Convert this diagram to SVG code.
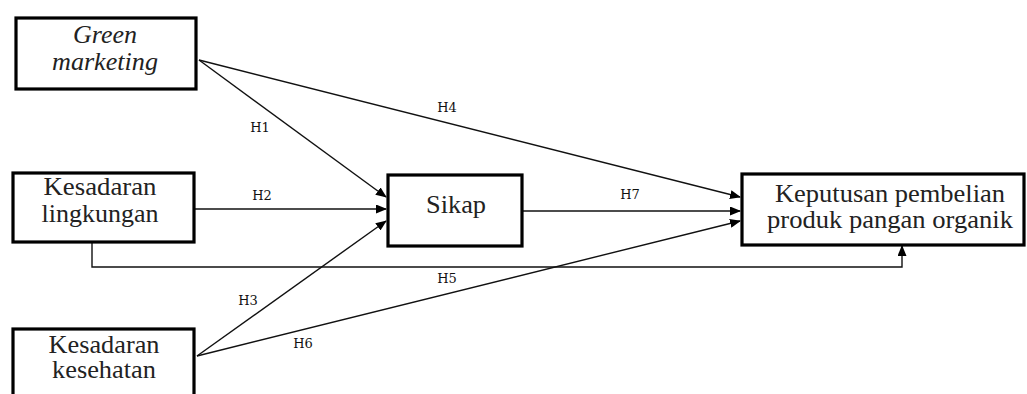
<svg xmlns="http://www.w3.org/2000/svg" width="1027" height="394" viewBox="0 0 1027 394">
<defs>
<marker id="arr" markerUnits="userSpaceOnUse" markerWidth="11" markerHeight="9" refX="10" refY="4.5" orient="auto">
<path d="M0,0 L11,4.5 L0,9 Z" fill="#000"/>
</marker>
<style>
.box{fill:#fff;stroke:#000;stroke-width:3.2}
.lbl{font-family:'Liberation Serif','Times New Roman',serif;font-size:25px;fill:#222;text-anchor:middle}
.h{font-family:'DejaVu Serif',serif;font-size:13px;fill:#111;text-anchor:middle}
.c{fill:none;stroke:#111;stroke-width:1.4}
</style>
</defs>
<rect width="1027" height="394" fill="#fff"/>
<g id="connectors">
<line class="c" x1="199" y1="60" x2="386" y2="197" marker-end="url(#arr)"/>
<line class="c" x1="199" y1="60" x2="740" y2="197" marker-end="url(#arr)"/>
<line class="c" x1="195" y1="209" x2="386" y2="209" marker-end="url(#arr)"/>
<line class="c" x1="197" y1="356" x2="386" y2="221" marker-end="url(#arr)"/>
<line class="c" x1="197" y1="356" x2="740" y2="221" marker-end="url(#arr)"/>
<line class="c" x1="522" y1="211" x2="740" y2="211" marker-end="url(#arr)"/>
<path class="c" d="M92,243 V267 H902 V246" marker-end="url(#arr)"/>
<text class="h" x="260" y="132">H1</text>
<text class="h" x="447" y="112">H4</text>
<text class="h" x="262" y="200">H2</text>
<text class="h" x="630" y="199">H7</text>
<text class="h" x="248" y="305">H3</text>
<text class="h" x="447" y="283">H5</text>
<text class="h" x="303" y="348">H6</text>
</g>
<g id="green-marketing">
<rect class="box" x="16" y="18" width="180" height="71"/>
<text class="lbl" x="105" y="43" font-style="italic" textLength="64" lengthAdjust="spacingAndGlyphs">Green</text>
<text class="lbl" x="105" y="70" font-style="italic" textLength="106" lengthAdjust="spacingAndGlyphs">marketing</text>
</g>
<g id="kesadaran-lingkungan">
<rect class="box" x="13" y="173" width="181" height="69"/>
<text class="lbl" x="100" y="195" textLength="113" lengthAdjust="spacingAndGlyphs">Kesadaran</text>
<text class="lbl" x="100" y="222" textLength="117" lengthAdjust="spacingAndGlyphs">lingkungan</text>
</g>
<g id="kesadaran-kesehatan">
<rect class="box" x="13" y="329" width="181" height="80"/>
<text class="lbl" x="104" y="353" textLength="111" lengthAdjust="spacingAndGlyphs">Kesadaran</text>
<text class="lbl" x="104" y="378" textLength="104" lengthAdjust="spacingAndGlyphs">kesehatan</text>
</g>
<g id="sikap">
<rect class="box" x="388" y="175" width="134" height="71"/>
<text class="lbl" x="456" y="213" textLength="60" lengthAdjust="spacingAndGlyphs">Sikap</text>
</g>
<g id="keputusan">
<rect class="box" x="742" y="174" width="282" height="71"/>
<text class="lbl" x="890" y="202" textLength="230" lengthAdjust="spacingAndGlyphs">Keputusan pembelian</text>
<text class="lbl" x="890" y="228" textLength="246" lengthAdjust="spacingAndGlyphs">produk pangan organik</text>
</g>
</svg>
